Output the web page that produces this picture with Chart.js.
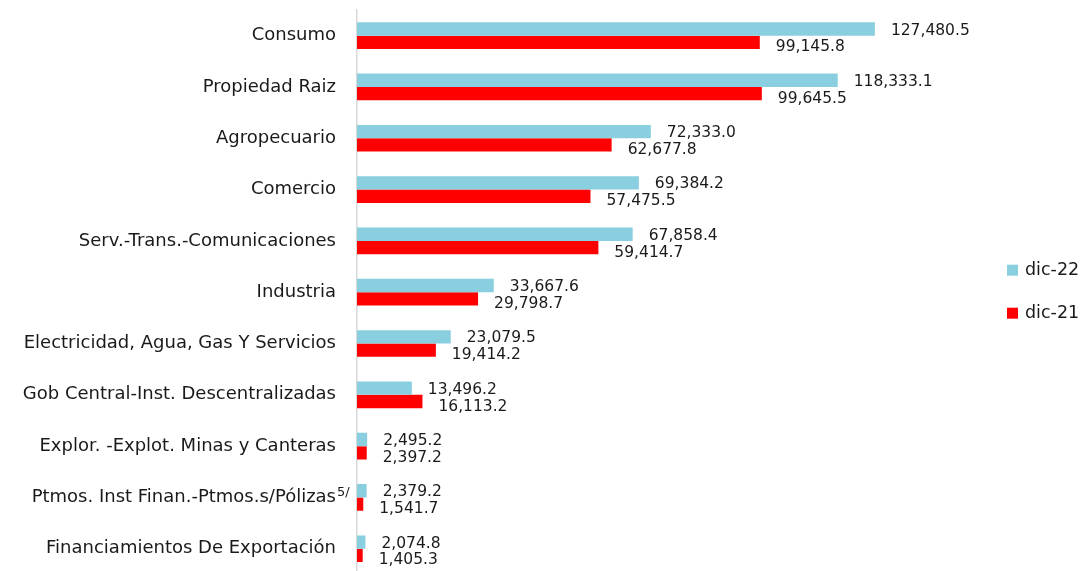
<!DOCTYPE html>
<html>
<head>
<meta charset="utf-8">
<script src="https://cdn.jsdelivr.net/npm/chart.js@4"></script>
<style>
  html, body { margin: 0; padding: 0; background: #fff; overflow: hidden; }
  canvas { display: block; }
</style>
</head>
<body>
<canvas id="chart" width="1090" height="575"></canvas>
<script>
(function () {
  'use strict';

  var categories = [
    'Consumo',
    'Propiedad Raiz',
    'Agropecuario',
    'Comercio',
    'Serv.-Trans.-Comunicaciones',
    'Industria',
    'Electricidad, Agua, Gas Y Servicios',
    'Gob Central-Inst. Descentralizadas',
    'Explor. -Explot. Minas y Canteras',
    'Ptmos. Inst Finan.-Ptmos.s/Pólizas',
    'Financiamientos De Exportación'
  ];
  var dic22 = [127480.5, 118333.1, 72333.0, 69384.2, 67858.4, 33667.6, 23079.5, 13496.2, 2495.2, 2379.2, 2074.8];
  var dic21 = [99145.8, 99645.5, 62677.8, 57475.5, 59414.7, 29798.7, 19414.2, 16113.2, 2397.2, 1541.7, 1405.3];
  var footnotes = { 9: '5/' };

  var FONT = '"DejaVu Sans", sans-serif';
  var textColor = '#1a1a1a';

  function fmt(v) {
    return v.toLocaleString('en-US', { minimumFractionDigits: 1, maximumFractionDigits: 1 });
  }

  var valueLabels = {
    id: 'valueLabels',
    afterDatasetsDraw: function (chart) {
      var ctx = chart.ctx;
      ctx.save();
      ctx.font = '15.5px ' + FONT;
      ctx.fillStyle = textColor;
      ctx.textAlign = 'left';
      ctx.textBaseline = 'middle';
      chart.data.datasets.forEach(function (ds, di) {
        var meta = chart.getDatasetMeta(di);
        var dy = di === 0 ? 1.5 : 5;
        meta.data.forEach(function (bar, i) {
          ctx.fillText(fmt(ds.data[i]), bar.x + 16, bar.y + dy);
        });
      });
      // footnote superscripts on category labels
      var y = chart.scales.y;
      ctx.font = '13px ' + FONT;
      Object.keys(footnotes).forEach(function (k) {
        ctx.fillText(footnotes[k], chart.chartArea.left - 20, y.getPixelForValue(+k) - 5);
      });
      ctx.restore();
    }
  };

  var sideLegend = {
    id: 'sideLegend',
    afterDraw: function (chart) {
      var ctx = chart.ctx;
      var area = chart.chartArea;
      var cy = (area.top + area.bottom) / 2;
      var offsets = [-22, 21];
      ctx.save();
      ctx.font = '17.5px ' + FONT;
      ctx.textBaseline = 'middle';
      ctx.textAlign = 'left';
      chart.data.datasets.forEach(function (ds, i) {
        var yy = cy + offsets[i];
        ctx.fillStyle = ds.backgroundColor;
        ctx.fillRect(1007, yy - 5.5, 11, 11);
        ctx.fillStyle = textColor;
        ctx.fillText(ds.label, 1025, yy);
      });
      ctx.restore();
    }
  };

  new Chart(document.getElementById('chart'), {
    type: 'bar',
    data: {
      labels: categories,
      datasets: [{
        label: 'dic-22',
        data: dic22,
        backgroundColor: '#8acfdf'
      }, {
        label: 'dic-21',
        data: dic21,
        backgroundColor: '#ff0000'
      }]
    },
    options: {
      indexAxis: 'y',
      responsive: false,
      animation: false,
      categoryPercentage: 0.52,
      barPercentage: 1.0,
      layout: { padding: { top: 10, bottom: 0.6, right: 83, left: 0 } },
      plugins: {
        legend: { display: false },
        tooltip: { enabled: false }
      },
      scales: {
        x: {
          display: false,
          min: 0,
          max: 160000
        },
        y: {
          afterFit: function (s) {
            s.width = 357;
            s.paddingTop = 0;
            s.paddingBottom = 0;
          },
          grid: { display: false, drawTicks: false },
          border: { display: true, color: '#d9d9d9', width: 1.5 },
          ticks: {
            color: textColor,
            padding: 21,
            font: { family: FONT, size: 18 }
          }
        }
      }
    },
    plugins: [valueLabels, sideLegend]
  });
})();
</script>
</body>
</html>
